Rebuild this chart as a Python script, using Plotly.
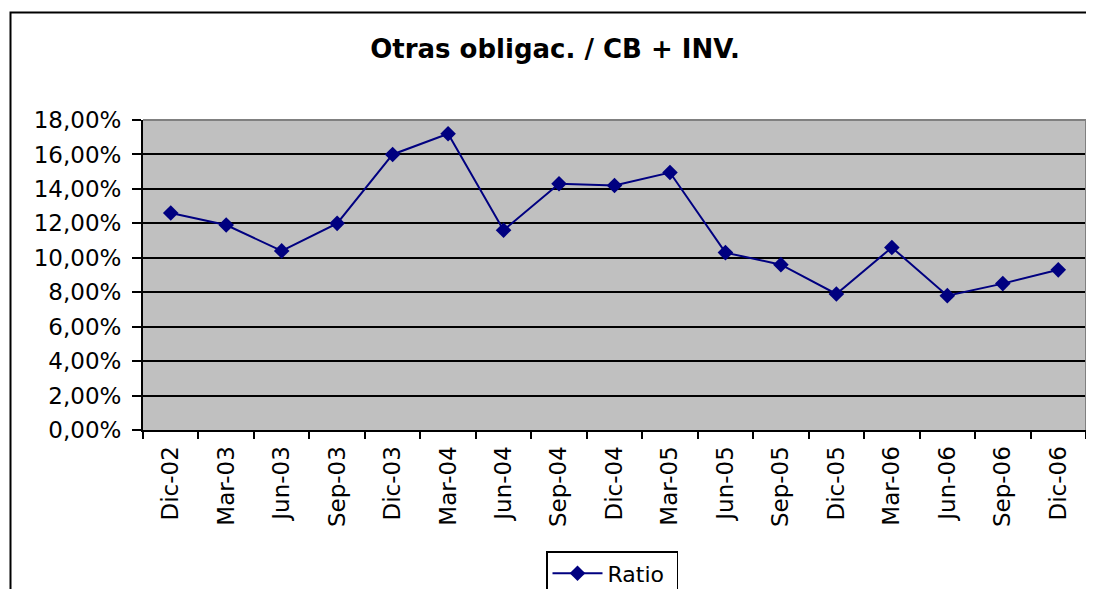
import plotly.graph_objects as go

periods = ["Dic-02", "Mar-03", "Jun-03", "Sep-03", "Dic-03", "Mar-04", "Jun-04", "Sep-04", "Dic-04",
           "Mar-05", "Jun-05", "Sep-05", "Dic-05", "Mar-06", "Jun-06", "Sep-06", "Dic-06"]
ratio = [0.126, 0.119, 0.104, 0.120, 0.160, 0.172, 0.116, 0.143, 0.142,
         0.1495, 0.103, 0.096, 0.079, 0.106, 0.078, 0.085, 0.093]

NAVY = "#000080"
FONT = "DejaVu Sans"

# the page body has an 8px margin, so the figure is kept inside the window
W, H = 1078, 581
L, R, T, B = 135, 0, 112, 159
pw, ph = W - L - R, H - T - B


def px(x):
    return (x - L) / pw


def py(y):
    return (H - B - y) / ph


fig = go.Figure()
fig.add_trace(
    go.Scatter(
        x=periods,
        y=ratio,
        name="Ratio",
        mode="lines+markers",
        line={"color": NAVY, "width": 2},
        marker={"symbol": "diamond", "size": 12, "color": NAVY},
    )
)

fig.update_layout(
    width=W,
    height=H,
    margin={"l": L, "r": R, "t": T, "b": B, "autoexpand": False},
    paper_bgcolor="white",
    plot_bgcolor="#c0c0c0",
    separators=",.",
    font={"family": FONT, "size": 23, "color": "black"},
    title={
        "text": "<b>Otras obligac. / CB + INV.</b>",
        "x": 547 / W,
        "xref": "container",
        "xanchor": "center",
        "y": 1 - 41 / H,
        "yref": "container",
        "yanchor": "middle",
        "font": {"family": FONT, "size": 26, "color": "black"},
    },
    showlegend=True,
    legend={
        "orientation": "h",
        "x": 604 / W,
        "xref": "container",
        "xanchor": "center",
        "y": 1 - 543 / H,
        "yref": "container",
        "yanchor": "top",
        "bordercolor": "black",
        "borderwidth": 1.5,
        "bgcolor": "white",
        "itemwidth": 50,
        "entrywidth": 64,
        "font": {"family": FONT, "size": 22},
    },
    shapes=[
        # outer chart frame
        {"type": "rect", "xref": "paper", "yref": "paper",
         "x0": px(2.5), "x1": px(1100), "y0": py(620), "y1": py(4.5),
         "line": {"color": "black", "width": 2}, "layer": "below"},
        # plot area top and right edges
        {"type": "line", "xref": "paper", "yref": "paper", "x0": 0, "x1": 1, "y0": 1, "y1": 1,
         "line": {"color": "#808080", "width": 2}},
        {"type": "line", "xref": "paper", "yref": "paper", "x0": 1, "x1": 1, "y0": 0, "y1": 1,
         "line": {"color": "#808080", "width": 2}},
    ],
)

fig.update_xaxes(
    type="category",
    range=[-0.5, len(periods) - 0.5],
    automargin=False,
    showgrid=False,
    showline=True,
    linecolor="black",
    linewidth=2,
    ticks="outside",
    tickson="boundaries",
    ticklen=7,
    tickwidth=1.5,
    tickcolor="black",
    tickangle=-90,
    ticklabelstandoff=5,
    tickfont={"family": FONT, "size": 23},
)
fig.update_yaxes(
    range=[0, 0.18],
    dtick=0.02,
    tickformat=".2%",
    automargin=False,
    showgrid=True,
    gridcolor="black",
    gridwidth=1.5,
    zeroline=False,
    showline=True,
    linecolor="black",
    linewidth=2,
    ticks="outside",
    ticklen=9,
    tickwidth=1.5,
    tickcolor="black",
    ticklabelstandoff=6,
    tickfont={"family": FONT, "size": 23},
)

fig.write_html("out.html")
